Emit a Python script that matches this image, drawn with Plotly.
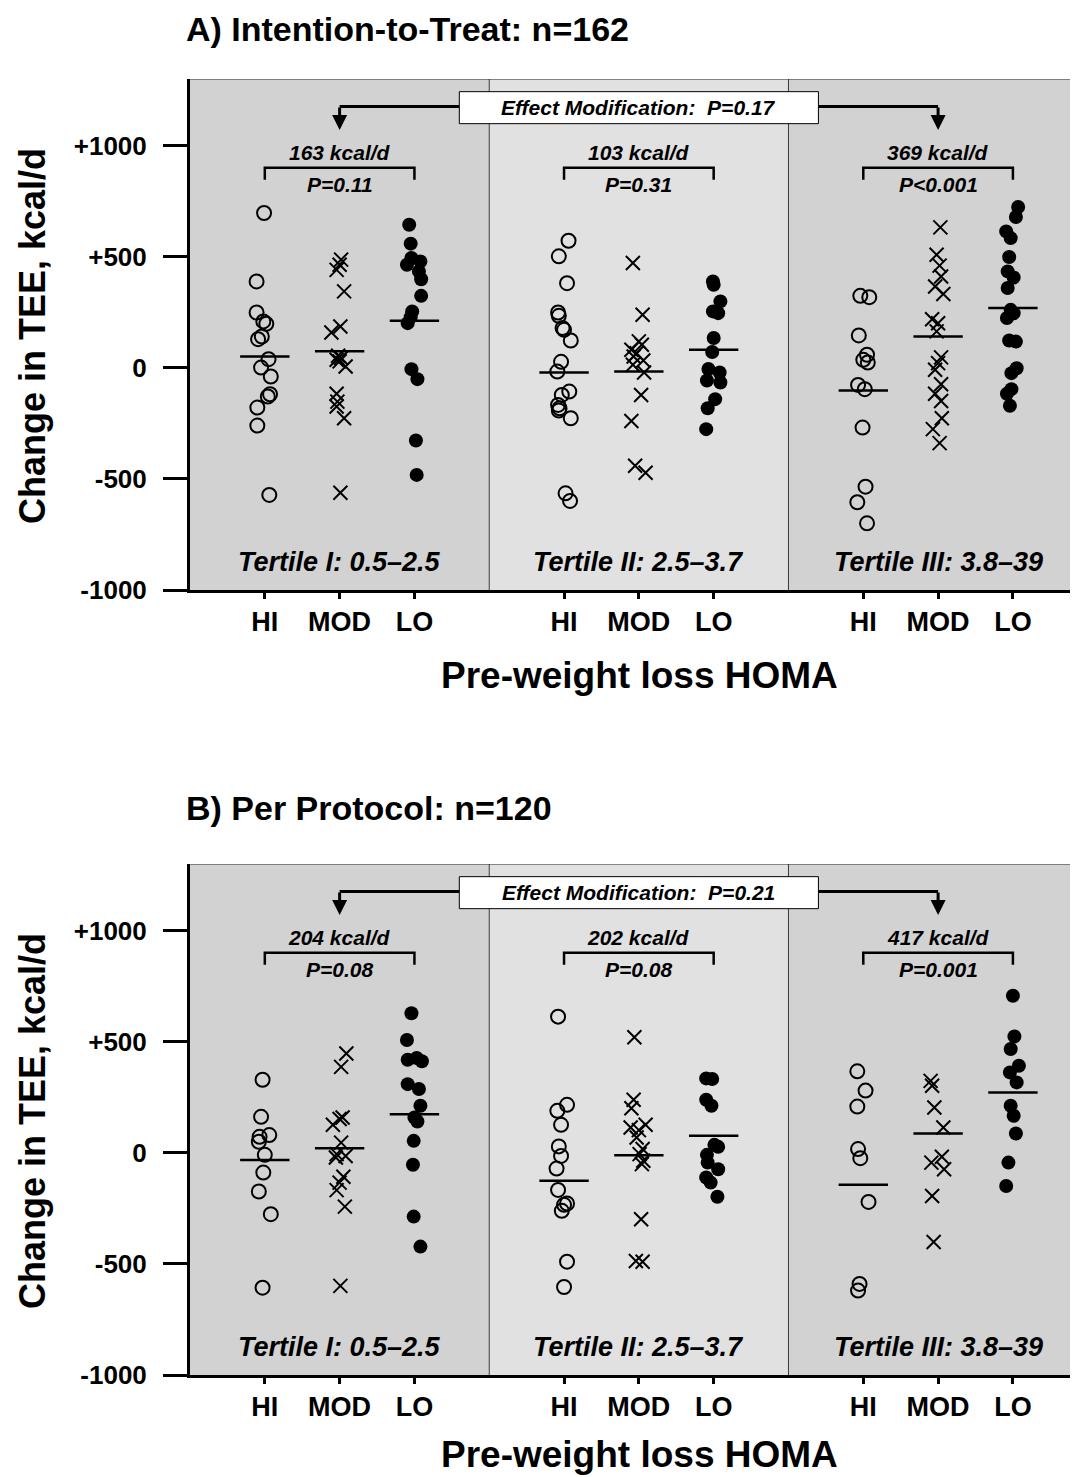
import plotly.graph_objects as go

# ---------------- data ----------------
groups = ["HI", "MOD", "LO"]
tertile_labels = ["Tertile I: 0.5–2.5", "Tertile II: 2.5–3.7", "Tertile III: 3.8–39"]
ytick_vals = [-1000, -500, 0, 500, 1000]
ytick_text = ["-1000", "-500", "0", "+500", "+1000"]

panel_titles = ["A) Intention-to-Treat: n=162", "B) Per Protocol: n=120"]
effect_p = ["P=0.17", "P=0.21"]
diff_kcal = [["163 kcal/d", "103 kcal/d", "369 kcal/d"], ["204 kcal/d", "202 kcal/d", "417 kcal/d"]]
diff_p = [["P=0.11", "P=0.31", "P<0.001"], ["P=0.08", "P=0.08", "P=0.001"]]

# Panel A (intention-to-treat) change in TEE, kcal/d
itt_t1_hi = [697, 389, 249, 209, 198, 141, 129, 39, 1, -39, -119, -129, -179, -260, -572]
itt_t1_mod = [487, 464, 441, 344, 186, 159, 54, 44, 36, 29, 6, -117, -152, -174, -227, -562]
itt_t1_lo = [644, 559, 494, 479, 464, 434, 399, 324, 254, 228, 201, -6, -51, -327, -482]
itt_t2_hi = [572, 502, 381, 249, 234, 179, 171, 123, 27, -17, -107, -122, -167, -182, -192, -227, -565, -599]
itt_t2_mod = [472, 239, 119, 104, 81, 66, 51, 33, 14, -21, -122, -239, -441, -472]
itt_t2_lo = [389, 374, 299, 254, 246, 134, 71, -5, -21, -57, -66, -141, -182, -276]
itt_t3_hi = [324, 318, 146, 59, 36, 24, -77, -96, -269, -535, -605, -700]
itt_t3_mod = [632, 509, 460, 411, 366, 332, 219, 201, 164, 47, 21, -9, -74, -117, -149, -227, -276, -339]
itt_t3_lo = [724, 679, 614, 584, 499, 434, 407, 359, 261, 246, 224, 123, 118, -2, -24, -96, -117, -171]
itt_means = [51, 75, 212, -21, -17, 81, -102, 141, 269]

# horizontal scatter offsets (category units)
itt_t1_hi_j = [-0.01, -0.11, -0.11, -0.02, 0.02, -0.04, -0.09, 0.05, -0.05, 0.08, 0.07, 0.04, -0.10, -0.10, 0.06]
itt_t1_mod_j = [0.02, 0.0, -0.04, 0.06, 0.01, -0.11, -0.02, 0.02, -0.04, 0.0, 0.08, -0.04, -0.03, -0.04, 0.06, 0.01]
itt_t1_lo_j = [-0.07, -0.05, -0.04, 0.08, -0.10, 0.06, 0.09, 0.09, -0.03, -0.05, -0.09, -0.04, 0.04, 0.02, 0.03]
itt_t2_hi_j = [0.06, -0.07, 0.04, -0.08, -0.07, -0.02, 0.0, 0.09, -0.04, -0.09, 0.07, -0.03, -0.08, -0.06, -0.07, 0.09, 0.02, 0.08]
itt_t2_mod_j = [-0.08, 0.05, 0.0, 0.04, -0.10, -0.03, -0.07, 0.06, -0.08, 0.07, 0.03, -0.10, -0.05, 0.09]
itt_t2_lo_j = [-0.01, 0.0, 0.09, -0.01, 0.06, 0.0, -0.02, -0.07, 0.08, -0.09, 0.09, 0.02, -0.08, -0.10]
itt_t3_hi_j = [-0.04, 0.08, -0.06, 0.05, 0.0, 0.06, -0.07, 0.02, -0.01, 0.03, -0.08, 0.05]
itt_t3_mod_j = [0.03, -0.02, 0.02, 0.04, -0.04, 0.07, -0.08, 0.0, -0.02, 0.04, 0.0, -0.04, 0.04, -0.04, 0.04, 0.05, -0.07, 0.02]
itt_t3_lo_j = [0.07, 0.04, -0.09, -0.03, -0.05, -0.07, 0.01, -0.07, -0.03, 0.01, -0.08, -0.05, 0.04, 0.05, -0.02, -0.02, -0.08, -0.04]

# Panel B (per protocol)
pp_t1_hi = [329, 162, 80, 72, 50, -9, -89, -174, -276, -607]
pp_t1_mod = [447, 387, 159, 152, 126, 46, -6, -14, -21, -108, -134, -168, -242, -599]
pp_t1_lo = [628, 508, 419, 427, 412, 309, 287, 212, 159, 141, 54, -54, -287, -422]
pp_t2_hi = [613, 216, 189, 126, 29, -14, -71, -167, -228, -234, -261, -490, -604]
pp_t2_mod = [520, 239, 201, 126, 114, 102, 69, 17, -6, -36, -51, -299, -487, -490]
pp_t2_lo = [335, 332, 239, 212, 36, 27, -9, -44, -74, -111, -134, -198]
pp_t3_hi = [367, 280, 208, 17, -24, -221, -590, -620]
pp_t3_mod = [324, 302, 204, 114, -18, -44, -74, -194, -401]
pp_t3_lo = [707, 524, 467, 392, 362, 317, 212, 167, 87, -44, -149]
pp_means = [-32, 21, 174, -126, -11, 77, -144, 87, 272]

pp_t1_hi_j = [-0.03, -0.05, 0.06, -0.07, -0.08, 0.0, -0.02, -0.08, 0.08, -0.03]
pp_t1_mod_j = [0.09, 0.02, 0.04, 0.0, -0.09, 0.02, -0.04, 0.08, -0.05, 0.05, 0.0, -0.04, 0.07, 0.01]
pp_t1_lo_j = [-0.04, -0.10, -0.09, 0.03, 0.10, -0.09, 0.06, 0.08, 0.0, 0.04, -0.01, -0.02, -0.01, 0.08]
pp_t2_hi_j = [-0.08, 0.04, -0.09, -0.04, -0.07, -0.04, -0.10, -0.08, 0.04, 0.0, -0.03, 0.04, 0.0]
pp_t2_mod_j = [-0.06, -0.07, -0.10, 0.09, -0.11, 0.0, -0.03, 0.05, 0.01, 0.06, 0.04, 0.03, -0.04, 0.05]
pp_t2_lo_j = [-0.10, -0.02, -0.10, -0.03, 0.01, 0.06, -0.09, -0.08, 0.06, -0.10, -0.04, 0.05]
pp_t3_hi_j = [-0.08, 0.03, -0.08, -0.07, -0.04, 0.07, -0.05, -0.07]
pp_t3_mod_j = [-0.10, -0.08, -0.05, 0.07, 0.05, -0.09, 0.08, -0.08, -0.06]
pp_t3_lo_j = [0.0, 0.02, -0.03, 0.08, -0.04, 0.05, -0.03, 0.01, 0.04, -0.06, -0.09]

itt_values = [itt_t1_hi, itt_t1_mod, itt_t1_lo, itt_t2_hi, itt_t2_mod, itt_t2_lo, itt_t3_hi, itt_t3_mod, itt_t3_lo]
itt_jitter = [itt_t1_hi_j, itt_t1_mod_j, itt_t1_lo_j, itt_t2_hi_j, itt_t2_mod_j, itt_t2_lo_j, itt_t3_hi_j, itt_t3_mod_j, itt_t3_lo_j]
pp_values = [pp_t1_hi, pp_t1_mod, pp_t1_lo, pp_t2_hi, pp_t2_mod, pp_t2_lo, pp_t3_hi, pp_t3_mod, pp_t3_lo]
pp_jitter = [pp_t1_hi_j, pp_t1_mod_j, pp_t1_lo_j, pp_t2_hi_j, pp_t2_mod_j, pp_t2_lo_j, pp_t3_hi_j, pp_t3_mod_j, pp_t3_lo_j]

panels = [(itt_values, itt_jitter, itt_means), (pp_values, pp_jitter, pp_means)]

# ---------------- figure ----------------
FONT = "Liberation Sans, Arial, Helvetica, sans-serif"
DARK = "#d2d2d2"
LIGHT = "#e1e1e1"
symbols = [
    dict(symbol="circle-open", size=14, color="black", line=dict(width=2, color="black")),
    dict(symbol="x-thin-open", size=14, color="black", line=dict(width=2, color="black")),
    dict(symbol="circle", size=14, color="black", line=dict(width=0)),
]

fig = go.Figure()
shapes = []
annotations = []

cat_x = []
for t in range(3):
    for g in range(3):
        cat_x.append(4 * t + 1 + g)

YMIN, YMAX = -1000, 1300
for p, (vals, jit, means) in enumerate(panels):
    xa = "x" if p == 0 else "x2"
    ya = "y" if p == 0 else "y2"
    # backgrounds
    for t in range(3):
        shapes.append(dict(type="rect", xref=xa, yref=ya, x0=4 * t, x1=4 * t + 4, y0=YMIN, y1=YMAX,
                           fillcolor=DARK if t != 1 else LIGHT, line=dict(width=0), layer="below"))
    for bx in (4, 8):
        shapes.append(dict(type="line", xref=xa, yref=ya, x0=bx, x1=bx, y0=YMIN, y1=YMAX,
                           line=dict(color="#3a3a3a", width=1), layer="below"))
    shapes.append(dict(type="line", xref=xa, yref=ya, x0=0, x1=12, y0=YMAX, y1=YMAX,
                       line=dict(color="#2a2a2a", width=1.2), layer="below"))
    # points + means
    for k in range(9):
        g = k % 3
        xs = [cat_x[k] + j for j in jit[k]]
        fig.add_trace(go.Scatter(x=xs, y=vals[k], mode="markers", marker=symbols[g],
                                 xaxis=xa, yaxis=ya, showlegend=False, hoverinfo="y"))
        fig.add_trace(go.Scatter(x=[cat_x[k] - 0.33, cat_x[k] + 0.33], y=[means[k], means[k]],
                                 mode="lines", line=dict(color="black", width=2.5),
                                 xaxis=xa, yaxis=ya, showlegend=False, hoverinfo="skip"))
    # brackets and text
    for t in range(3):
        x0, x1, xm = 4 * t + 1, 4 * t + 3, 4 * t + 2
        shapes.append(dict(type="path", xref=xa, yref=ya,
                           path=f"M {x0},847 L {x0},901 L {x1},901 L {x1},847",
                           line=dict(color="black", width=2.5)))
        annotations.append(dict(xref=xa, yref=ya, x=xm, y=969, text=f"<b><i>{diff_kcal[p][t]}</i></b>",
                                showarrow=False, font=dict(family=FONT, size=21, color="black")))
        annotations.append(dict(xref=xa, yref=ya, x=xm, y=826, text=f"<b><i>{diff_p[p][t]}</i></b>",
                                showarrow=False, font=dict(family=FONT, size=21, color="black")))
        annotations.append(dict(xref=xa, yref=ya, x=xm, y=-874, text=f"<b><i>{tertile_labels[t]}</i></b>",
                                showarrow=False, font=dict(family=FONT, size=27, color="black")))
    # effect modification box and arrows
    shapes.append(dict(type="path", xref=xa, yref=ya, path="M 2,1176 L 3.6,1176",
                       line=dict(color="black", width=3)))
    shapes.append(dict(type="path", xref=xa, yref=ya, path="M 8.4,1176 L 10,1176",
                       line=dict(color="black", width=3)))
    shapes.append(dict(type="rect", xref=xa, yref=ya, x0=3.6, x1=8.4, y0=1099, y1=1243,
                       fillcolor="white", line=dict(color="black", width=1)))
    annotations.append(dict(xref=xa, yref=ya, x=6, y=1171,
                            text=f"<b><i>Effect Modification:  {effect_p[p]}</i></b>",
                            showarrow=False, font=dict(family=FONT, size=21, color="black")))
    for ax_ in (2, 10):
        annotations.append(dict(xref=xa, yref=ya, x=ax_, y=1070, axref=xa, ayref=ya, ax=ax_, ay=1178,
                                text="", showarrow=True, arrowhead=2, arrowsize=1.0, arrowwidth=3,
                                arrowcolor="black"))

# paper-level texts (positions given in page pixels; plot area is 190..1078 x 79..1375)
H = 1296.0
def py(pix):
    return (1375 - pix) / H
def px(pix):
    return (pix - 190) / 888.0

annotations += [
    dict(xref="paper", yref="paper", x=px(184), y=py(29), xanchor="left", yanchor="middle",
         text="<b>" + panel_titles[0] + "</b>", showarrow=False, font=dict(family=FONT, size=34, color="black")),
    dict(xref="paper", yref="paper", x=px(184), y=py(808), xanchor="left", yanchor="middle",
         text="<b>" + panel_titles[1] + "</b>", showarrow=False, font=dict(family=FONT, size=34, color="black")),
    dict(xref="paper", yref="paper", x=px(639), y=py(675), xanchor="center", yanchor="middle",
         text="<b>Pre-weight loss HOMA</b>", showarrow=False, font=dict(family=FONT, size=37, color="black")),
    dict(xref="paper", yref="paper", x=px(639), y=py(1454), xanchor="center", yanchor="middle",
         text="<b>Pre-weight loss HOMA</b>", showarrow=False, font=dict(family=FONT, size=37, color="black")),
    dict(xref="paper", yref="paper", x=px(32), y=py(336), xanchor="center", yanchor="middle", textangle=-90,
         text="<b>Change in TEE, kcal/d</b>", showarrow=False, font=dict(family=FONT, size=36, color="black")),
    dict(xref="paper", yref="paper", x=px(32), y=py(1121), xanchor="center", yanchor="middle", textangle=-90,
         text="<b>Change in TEE, kcal/d</b>", showarrow=False, font=dict(family=FONT, size=36, color="black")),
]

xaxis_common = dict(range=[0, 11.87], tickmode="array", tickvals=cat_x,
                    ticktext=["<b>" + groups[i % 3] + "</b>" for i in range(9)],
                    showgrid=False, zeroline=False, showline=True, linewidth=3, linecolor="black",
                    ticks="outside", ticklen=6, tickwidth=2.5, tickcolor="black",
                    tickfont=dict(family=FONT, size=27, color="black"), ticklabelstandoff=0,
                    fixedrange=True)
yaxis_common = dict(range=[YMIN, YMAX], tickmode="array", tickvals=ytick_vals,
                    ticktext=["<b>" + s + "</b>" for s in ytick_text],
                    showgrid=False, zeroline=False, showline=True, linewidth=3, linecolor="black",
                    ticks="outside", ticklen=24, tickwidth=3, tickcolor="black",
                    tickfont=dict(family=FONT, size=26, color="black"), ticklabelstandoff=11,
                    fixedrange=True)

# The page adds an 8px body margin, so the figure is 8px smaller and margins shifted by 8px.
dA = (1375 - 590) / H
dB = (1375 - 864) / H
fig.update_layout(
    width=1070, height=1469,
    margin=dict(l=182, r=0, t=71, b=102),
    paper_bgcolor="white", plot_bgcolor="white",
    xaxis=dict(xaxis_common, domain=[0, 1], anchor="y"),
    yaxis=dict(yaxis_common, domain=[dA, 1], anchor="x"),
    xaxis2=dict(xaxis_common, domain=[0, 1], anchor="y2"),
    yaxis2=dict(yaxis_common, domain=[0, dB], anchor="x2"),
    shapes=shapes,
    annotations=annotations,
    showlegend=False,
    font=dict(family=FONT, color="black"),
)

fig.write_html("out.html")
